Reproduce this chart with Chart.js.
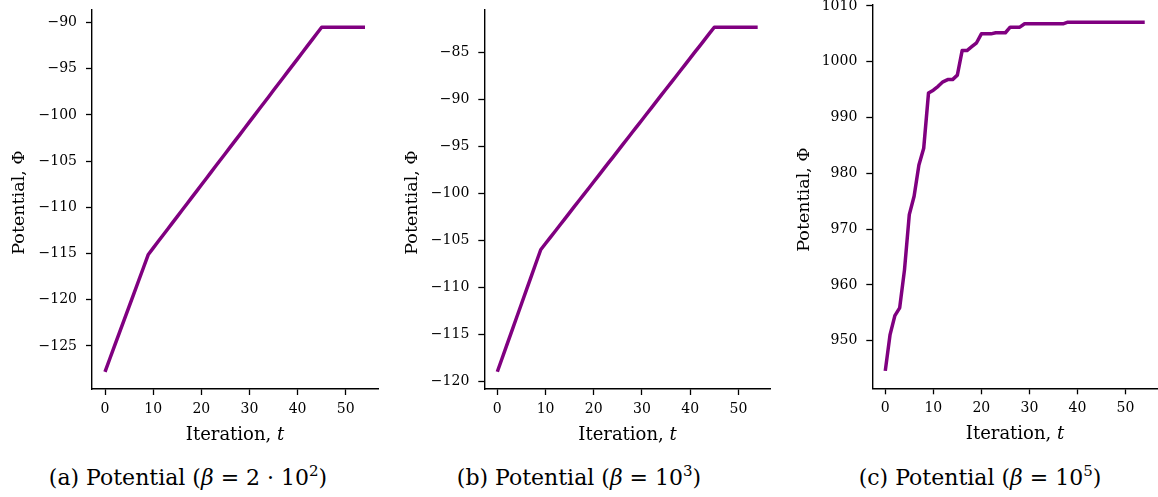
<!DOCTYPE html>
<html>
<head>
<meta charset="utf-8">
<script src="https://cdn.jsdelivr.net/npm/chart.js@4.4.1/dist/chart.umd.min.js"></script>
<style>
  html, body { margin: 0; padding: 0; background: #fff; }
  body { width: 1158px; height: 497px; position: relative; overflow: hidden; font-family: "DejaVu Serif", serif; }
  .panel { position: absolute; top: 0; height: 455px; }
  .cap { position: absolute; top: 463px; font-family: "DejaVu Serif", serif; font-size: 22px; color: #000; white-space: nowrap; transform: translateX(-50%); line-height: 30px; }
  .cap sup { font-size: 15px; line-height: 0; position: relative; top: -1px; }
</style>
</head>
<body>
<div class="panel" style="left:0;width:390px"><canvas id="ca" width="390" height="455"></canvas></div>
<div class="panel" style="left:390px;width:390px"><canvas id="cb" width="390" height="455"></canvas></div>
<div class="panel" style="left:780px;width:378px"><canvas id="cc" width="378" height="455"></canvas></div>
<div class="cap" style="left:188px">(a) Potential (<i>β</i> = 2 · 10<sup>2</sup>)</div>
<div class="cap" style="left:579px">(b) Potential (<i>β</i> = 10<sup>3</sup>)</div>
<div class="cap" style="left:980px">(c) Potential (<i>β</i> = 10<sup>5</sup>)</div>
<script>
// ---- data ----
const iterations = [0,1,2,3,4,5,6,7,8,9,10,11,12,13,14,15,16,17,18,19,20,21,22,23,24,25,26,27,28,29,30,31,32,33,34,35,36,37,38,39,40,41,42,43,44,45,46,47,48,49,50,51,52,53,54];

const potentialA = [-127.80,-126.39,-124.98,-123.57,-122.16,-120.74,-119.33,-117.92,-116.51,-115.10,
  -114.42,-113.73,-113.05,-112.37,-111.68,-111.00,-110.32,-109.63,-108.95,-108.27,
  -107.58,-106.90,-106.22,-105.53,-104.85,-104.17,-103.48,-102.80,-102.12,-101.43,
  -100.75,-100.07,-99.38,-98.70,-98.02,-97.33,-96.65,-95.97,-95.28,-94.60,
  -93.92,-93.23,-92.55,-91.87,-91.18,-90.50,-90.50,-90.50,-90.50,-90.50,
  -90.50,-90.50,-90.50,-90.50,-90.50];

const potentialB = [-119.00,-117.56,-116.11,-114.67,-113.22,-111.78,-110.33,-108.89,-107.44,-106.00,
  -105.34,-104.68,-104.03,-103.37,-102.71,-102.05,-101.39,-100.73,-100.08,-99.42,
  -98.76,-98.10,-97.44,-96.78,-96.13,-95.47,-94.81,-94.15,-93.49,-92.83,
  -92.18,-91.52,-90.86,-90.20,-89.54,-88.88,-88.23,-87.57,-86.91,-86.25,
  -85.59,-84.93,-84.28,-83.62,-82.96,-82.30,-82.30,-82.30,-82.30,-82.30,
  -82.30,-82.30,-82.30,-82.30,-82.30];

const potentialC = [944.6,951.1,954.5,955.9,962.7,972.6,975.9,981.5,984.5,994.4,
  994.9,995.6,996.4,996.8,996.8,997.6,1002.0,1002.0,1002.7,1003.4,
  1005.0,1005.0,1005.0,1005.2,1005.2,1005.2,1006.2,1006.2,1006.2,1006.8,
  1006.8,1006.8,1006.8,1006.8,1006.8,1006.8,1006.8,1006.8,1007.1,1007.1,
  1007.1,1007.1,1007.1,1007.1,1007.1,1007.1,1007.1,1007.1,1007.1,1007.1,
  1007.1,1007.1,1007.1,1007.1,1007.1];

const xTickValues = [0,10,20,30,40,50];
const yTicksA = [-125,-120,-115,-110,-105,-100,-95,-90];
const yTicksB = [-120,-115,-110,-105,-100,-95,-90,-85];
const yTicksC = [950,960,970,980,990,1000,1010];

const xTitlePre = 'Iteration, ';
const xTitleVar = 't';
const yTitle = 'Potential, Φ';

// ---- drawing ----
const FONT = '"DejaVu Serif", serif';
const titlePlugin = {
  id: 'axisTitles',
  afterDraw(chart, args, opts) {
    const {ctx, chartArea: a} = chart;
    ctx.save();
    ctx.fillStyle = '#000';
    ctx.textBaseline = 'middle';
    const f1 = '18px ' + FONT, f2 = 'italic 18px ' + FONT;
    ctx.font = f1; const w1 = ctx.measureText(xTitlePre).width;
    ctx.font = f2; const w2 = ctx.measureText(xTitleVar).width;
    const x0 = (a.left + a.right) / 2 - (w1 + w2) / 2;
    const y = a.bottom + opts.xOffset;
    ctx.textAlign = 'left';
    ctx.font = f1; ctx.fillText(xTitlePre, x0, y);
    ctx.font = f2; ctx.fillText(xTitleVar, x0 + w1, y);
    ctx.translate(a.left - opts.yOffset, (a.top + a.bottom) / 2 + opts.yShift);
    ctx.rotate(-Math.PI / 2);
    ctx.font = '17.5px ' + FONT; ctx.textAlign = 'center';
    ctx.fillText(yTitle, 0, 0);
    ctx.restore();
  }
};

function makeChart(id, values, yTicks, yMin, yMax, g) {
  const pts = iterations.map((t, i) => ({x: t, y: values[i]}));
  const tickStyle = {color: '#000', font: {family: FONT, size: 14}};
  new Chart(document.getElementById(id), {
    type: 'line',
    data: { datasets: [{ data: pts, borderColor: '#800080', borderWidth: 3.5, pointRadius: 0, tension: 0, fill: false, borderCapStyle: 'butt', borderJoinStyle: 'round' }] },
    options: {
      responsive: false, animation: false, events: [],
      layout: { padding: { left: 0, top: g.top, right: g.right, bottom: 0 } },
      plugins: { legend: {display: false}, tooltip: {enabled: false}, axisTitles: { xOffset: 46, yOffset: g.yTitle, yShift: 3 } },
      scales: {
        x: {
          type: 'linear', min: -2.7, max: 56.7,
          afterBuildTicks: s => { s.ticks = xTickValues.map(v => ({value: v})); },
          afterFit: s => { s.height = g.xh; s.paddingLeft = 0; s.paddingRight = 0; },
          border: {display: true, color: '#000', width: 1.4},
          grid: {display: true, drawOnChartArea: false, drawTicks: true, tickLength: 6, tickWidth: 1.3, tickColor: '#000'},
          ticks: Object.assign({padding: 6, maxRotation: 0, callback: v => String(v)}, tickStyle)
        },
        y: {
          type: 'linear', min: yMin, max: yMax,
          afterBuildTicks: s => { s.ticks = yTicks.map(v => ({value: v})); },
          afterFit: s => { s.width = g.yw; s.paddingTop = 0; s.paddingBottom = 0; },
          border: {display: true, color: '#000', width: 1.4},
          grid: {display: true, drawOnChartArea: false, drawTicks: true, tickLength: 6, tickWidth: 1.3, tickColor: '#000'},
          ticks: Object.assign({padding: 9, callback: v => String(v).replace('-', '\u2212')}, tickStyle)
        }
      }
    },
    plugins: [titlePlugin]
  });
}

makeChart('ca', potentialA, yTicksA, -129.665, -88.635, {top: 10, right: 12, xh: 66, yw: 92, yTitle: 73});
makeChart('cb', potentialB, yTicksB, -120.835, -80.465, {top: 10, right: 9.3, xh: 66, yw: 94.3, yTitle: 72});
makeChart('cc', potentialC, yTicksC, 941.475, 1010.225, {top: 4.7, right: 0.3, xh: 66.7, yw: 92.3, yTitle: 68});
</script>
</body>
</html>
